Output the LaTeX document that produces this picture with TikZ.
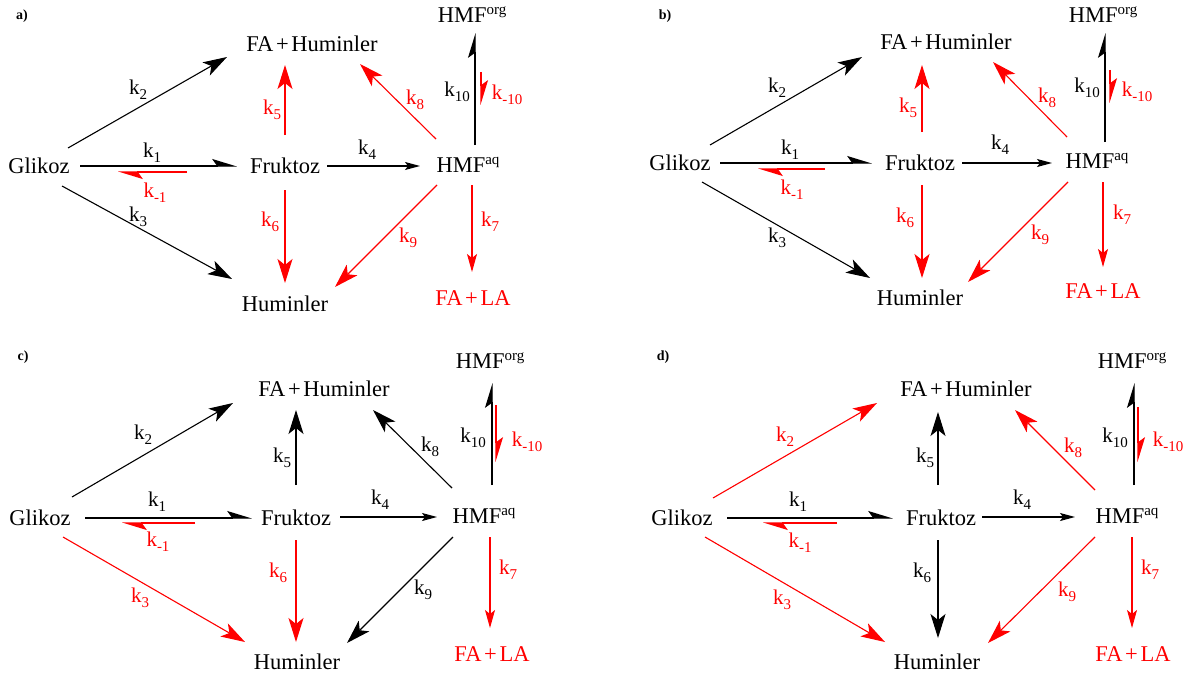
\documentclass[tikz,border=0pt]{standalone}
\usepackage{fontspec}
\setmainfont{Liberation Serif}
\usetikzlibrary{arrows.meta}
\newcommand{\kk}[1]{k\raisebox{-5pt}{\fontsize{15}{15}\selectfont #1}}
\newcommand{\hmf}[1]{HMF\raisebox{8pt}{\fontsize{15}{15}\selectfont #1}}
\newcommand{\pls}{\hspace{0.12em}+\hspace{0.12em}}
\newcommand{\conn}[4]{\coordinate (#1s) at (#2); \coordinate (#1e) at (#3); \draw[#4] (#1s) -- (#1e);}
\tikzset{
 sp/.style={font=\rmfamily\fontsize{22.5}{27}\selectfont, inner sep=0pt, anchor=base},
 kl/.style={font=\rmfamily\fontsize{21}{25}\selectfont, inner sep=0pt},
 pl/.style={font=\rmfamily\fontsize{14}{16}\selectfont\bfseries, inner sep=0pt, anchor=base},
 ln/.style={line width=1.1pt},
 big/.style={ln, -{Stealth[length=24pt,width=15pt,inset=6pt]}},
 med/.style={ln, -{Stealth[length=18pt,width=10pt,inset=4pt]}},
 sml/.style={ln, -{Stealth[length=15pt,width=8pt,inset=3pt]}},
 hp/.style={ln, -{Stealth[harpoon,length=23pt,width=14pt,inset=5pt]}},
}
\begin{document}
\begin{tikzpicture}[x=1pt,y=-1pt]
\useasboundingbox[fill=white] (0,0) rectangle (1202,677);
% ---------------- panel a ----------------
\node[pl] (la) at (22,20) {a)};
\node[sp] (aGl) at (39,173) {Glikoz};
\node[sp] (aFH) at (312,52) {FA\pls Huminler};
\node[sp] (aFr) at (285,173) {Fruktoz};
\node[sp] (aHa) at (468,172) {\hmf{aq}};
\node[sp] (aHo) at (472,23) {\hmf{org}};
\node[sp] (aHu) at (285,311) {Huminler};
\node[sp,red] (aFL) at (473,305) {FA\pls LA};
\conn{a2}{68,148}{227,57}{big}
\conn{a1}{80,166}{237,166}{hp}
\conn{am1}{187,172}{118,172}{hp,red}
\conn{a3}{62,186}{232,279}{big}
\conn{a5}{285,135}{285,65}{big,red}
\conn{a6}{285,190}{285,283}{big,red}
\conn{a4}{327,166}{420,166}{sml}
\conn{a8}{436,139}{360,64}{big,red}
\conn{a10}{475,145}{475,33}{hp}
\conn{am10}{481,72}{481,105}{hp,red}
\conn{a9}{437,185}{335,287}{big,red}
\conn{a7}{472,185}{472,272}{med,red}
\node[kl] (ak2) at (138,90) {\kk{2}};
\node[kl] (ak1) at (152,153) {\kk{1}};
\node[kl,red] (akm1) at (155,193) {\kk{-1}};
\node[kl] (ak3) at (138,217) {\kk{3}};
\node[kl,red] (ak5) at (272,110) {\kk{5}};
\node[kl,red] (ak6) at (270,222) {\kk{6}};
\node[kl] (ak4) at (367,150) {\kk{4}};
\node[kl,red] (ak8) at (415,100) {\kk{8}};
\node[kl] (ak10) at (457,92) {\kk{10}};
\node[kl,red] (akm10) at (507,95) {\kk{-10}};
\node[kl,red] (ak9) at (408,238) {\kk{9}};
\node[kl,red] (ak7) at (490,222) {\kk{7}};
% ---------------- panel b ----------------
\node[pl] (lb) at (665,20) {b)};
\node[sp] (bGl) at (680,170) {Glikoz};
\node[sp] (bFH) at (946,50) {FA\pls Huminler};
\node[sp] (bFr) at (920,170) {Fruktoz};
\node[sp] (bHa) at (1097,168) {\hmf{aq}};
\node[sp] (bHo) at (1103,23) {\hmf{org}};
\node[sp] (bHu) at (920,305) {Huminler};
\node[sp,red] (bFL) at (1103,298) {FA\pls LA};
\conn{b2}{710,145}{862,57}{big}
\conn{b1}{720,163}{872,163}{hp}
\conn{bm1}{825,169}{758,169}{hp,red}
\conn{b3}{702,182}{870,278}{big}
\conn{b5}{922,132}{922,65}{big,red}
\conn{b6}{922,185}{922,278}{big,red}
\conn{b4}{962,163}{1052,163}{sml}
\conn{b8}{1067,137}{993,62}{big,red}
\conn{b10}{1105,142}{1105,33}{hp}
\conn{bm10}{1110,70}{1110,103}{hp,red}
\conn{b9}{1068,182}{968,282}{big,red}
\conn{b7}{1103,182}{1103,267}{med,red}
\node[kl] (bk2) at (777,88) {\kk{2}};
\node[kl] (bk1) at (790,150) {\kk{1}};
\node[kl,red] (bkm1) at (792,190) {\kk{-1}};
\node[kl] (bk3) at (777,238) {\kk{3}};
\node[kl,red] (bk5) at (908,108) {\kk{5}};
\node[kl,red] (bk6) at (905,218) {\kk{6}};
\node[kl] (bk4) at (1000,145) {\kk{4}};
\node[kl,red] (bk8) at (1047,98) {\kk{8}};
\node[kl] (bk10) at (1087,88) {\kk{10}};
\node[kl,red] (bkm10) at (1137,92) {\kk{-10}};
\node[kl,red] (bk9) at (1040,235) {\kk{9}};
\node[kl,red] (bk7) at (1122,215) {\kk{7}};
% ---------------- panel c ----------------
\node[pl] (lc) at (23,360) {c)};
\node[sp] (cGl) at (40,525) {Glikoz};
\node[sp] (cFH) at (324,396) {FA\pls Huminler};
\node[sp] (cFr) at (296,525) {Fruktoz};
\node[sp] (cHa) at (484,523) {\hmf{aq}};
\node[sp] (cHo) at (490,368) {\hmf{org}};
\node[sp] (cHu) at (297,669) {Huminler};
\node[sp,red] (cFL) at (492,661) {FA\pls LA};
\conn{c2}{72,497}{233,403}{big}
\conn{c1}{85,518}{252,518}{hp}
\conn{cm1}{195,523}{122,523}{hp,red}
\conn{c3}{63,537}{245,642}{big,red}
\conn{c5}{296,485}{296,410}{big}
\conn{c6}{296,540}{296,642}{big,red}
\conn{c4}{340,517}{437,517}{sml}
\conn{c8}{452,488}{373,410}{big}
\conn{c10}{492,485}{492,383}{hp}
\conn{cm10}{496,405}{496,462}{hp,red}
\conn{c9}{453,537}{347,643}{big}
\conn{c7}{490,537}{490,628}{med,red}
\node[kl] (ck2) at (143,435) {\kk{2}};
\node[kl] (ck1) at (157,502) {\kk{1}};
\node[kl,red] (ckm1) at (158,542) {\kk{-1}};
\node[kl,red] (ck3) at (140,598) {\kk{3}};
\node[kl] (ck5) at (282,458) {\kk{5}};
\node[kl,red] (ck6) at (278,573) {\kk{6}};
\node[kl] (ck4) at (380,500) {\kk{4}};
\node[kl] (ck8) at (430,447) {\kk{8}};
\node[kl] (ck10) at (473,438) {\kk{10}};
\node[kl,red] (ckm10) at (527,442) {\kk{-10}};
\node[kl] (ck9) at (423,590) {\kk{9}};
\node[kl,red] (ck7) at (508,570) {\kk{7}};
% ---------------- panel d ----------------
\node[pl] (ld) at (663,360) {d)};
\node[sp] (dGl) at (682,525) {Glikoz};
\node[sp] (dFH) at (966,396) {FA\pls Huminler};
\node[sp] (dFr) at (941,525) {Fruktoz};
\node[sp] (dHa) at (1127,523) {\hmf{aq}};
\node[sp] (dHo) at (1132,368) {\hmf{org}};
\node[sp] (dHu) at (937,669) {Huminler};
\node[sp,red] (dFL) at (1133,661) {FA\pls LA};
\conn{d2}{713,498}{877,403}{big,red}
\conn{d1}{727,518}{893,518}{hp}
\conn{dm1}{837,523}{763,523}{hp,red}
\conn{d3}{705,537}{885,642}{big,red}
\conn{d5}{938,485}{938,412}{big}
\conn{d6}{938,540}{938,638}{big}
\conn{d4}{982,517}{1075,517}{sml}
\conn{d8}{1095,490}{1015,410}{big,red}
\conn{d10}{1134,485}{1134,383}{hp}
\conn{dm10}{1138,407}{1138,462}{hp,red}
\conn{d9}{1095,537}{988,643}{big,red}
\conn{d7}{1132,537}{1132,628}{med,red}
\node[kl,red] (dk2) at (785,437) {\kk{2}};
\node[kl] (dk1) at (798,502) {\kk{1}};
\node[kl,red] (dkm1) at (800,543) {\kk{-1}};
\node[kl,red] (dk3) at (782,600) {\kk{3}};
\node[kl] (dk5) at (925,458) {\kk{5}};
\node[kl] (dk6) at (922,573) {\kk{6}};
\node[kl] (dk4) at (1022,500) {\kk{4}};
\node[kl,red] (dk8) at (1073,448) {\kk{8}};
\node[kl] (dk10) at (1115,438) {\kk{10}};
\node[kl,red] (dkm10) at (1168,442) {\kk{-10}};
\node[kl,red] (dk9) at (1067,592) {\kk{9}};
\node[kl,red] (dk7) at (1150,570) {\kk{7}};
\end{tikzpicture}
\end{document}
